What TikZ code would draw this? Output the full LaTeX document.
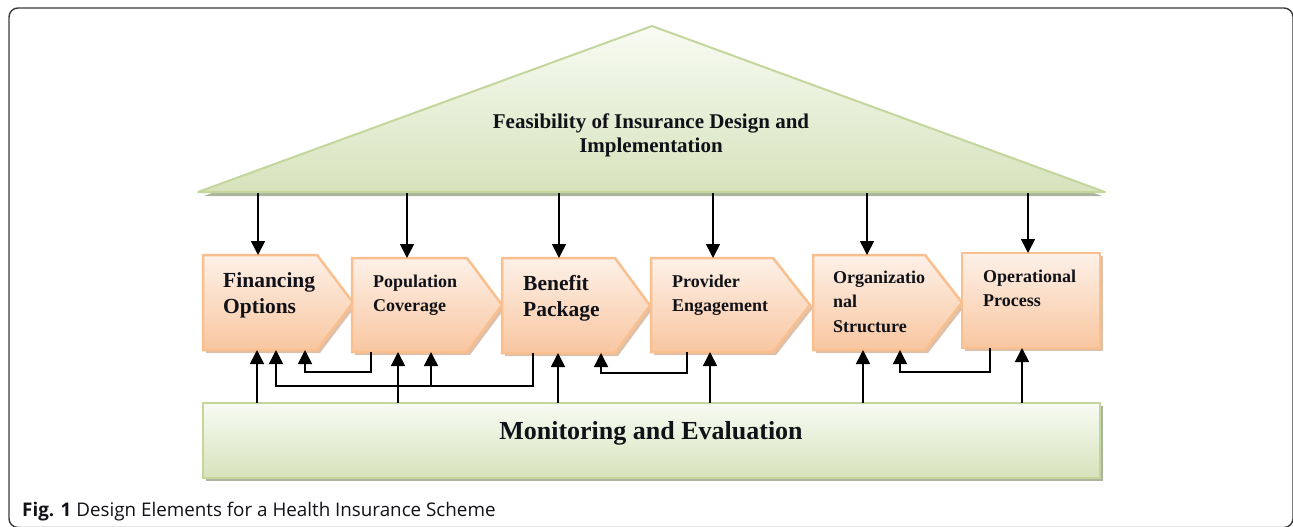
\documentclass[tikz,border=0pt]{standalone}
\usepackage{fontspec}
\setmainfont{Liberation Serif}
\newfontfamily\capfont{Open Sans}
\usetikzlibrary{arrows.meta,calc}
\definecolor{obord}{HTML}{F9BF8F}
\definecolor{otop}{HTML}{FDF1E8}
\definecolor{obot}{HTML}{F9C6A0}
\definecolor{oshad}{HTML}{DDC0AA}
\definecolor{gbord}{HTML}{C3D69B}
\definecolor{gtop}{HTML}{F8FBF3}
\definecolor{gbot}{HTML}{D6E3BC}
\definecolor{gshad}{HTML}{ABB49C}
\definecolor{framecol}{HTML}{3A3A3A}
\definecolor{txt}{HTML}{111118}
\newcommand\mychev[2]{%
  \fill[oshad] ($(#1.north west)+(3,3)$) -- ($(#1.north east)+(3,3)$) -- ($(#1.east)+(#2+3,3)$) -- ($(#1.south east)+(3,3)$) -- ($(#1.south west)+(3,3)$) -- cycle;
  \path[obox] (#1.north west) -- (#1.north east) -- ($(#1.east)+(#2,0)$) -- (#1.south east) -- (#1.south west) -- cycle;}
\begin{document}
\begin{tikzpicture}[x=1pt,y=-1pt,
  area/.style={inner sep=0pt, outer sep=0pt, draw=none, anchor=north west},
  obox/.style={draw=obord, line width=2.5pt, top color=otop, bottom color=obot, line join=miter},
  big/.style={inner sep=0pt, anchor=north west, align=left, text=txt, font=\fontsize{21.5}{26}\selectfont\bfseries},
  small/.style={inner sep=0pt, anchor=north west, align=left, text=txt, font=\fontsize{18}{24}\selectfont\bfseries},
  arr/.style={line width=1.7pt, draw=black, -{Triangle[width=14pt,length=14pt]}},
  fb/.style={line width=1.4pt, draw=black, -{Triangle[width=14pt,length=14pt]}}
]
\useasboundingbox (0,0) rectangle (1293,527);
\draw[framecol, line width=1.4pt, rounded corners=9pt] (9,8) rectangle (1293,527.5);

% roof
\coordinate (apex) at (652,26);
\coordinate (bl) at (198,192);
\coordinate (br) at (1105,192);
\coordinate (tb) at (0,193);
\fill[gshad] ($(bl)+(6,4)$) -- ($(apex)+(0,4)$) -- ($(br)+(-3,4)$) -- cycle;
\shade[top color=gtop, bottom color=gbot] (apex) -- (br) -- (bl) -- cycle;
\draw[gbord, line width=2pt, line join=round] (apex) -- (br) -- (bl) -- cycle;
\node[inner sep=0pt, anchor=north, align=center, text=txt, font=\fontsize{21}{24}\selectfont\bfseries] (roof) at (651,113.5) {Feasibility of Insurance Design and\\Implementation};

% boxes
\node[area, minimum width=114pt, minimum height=95pt] (fin) at (203,255) {};
\node[area, minimum width=115pt, minimum height=94pt] (pop) at (352,258) {};
\node[area, minimum width=113pt, minimum height=95pt] (ben) at (502,258) {};
\node[area, minimum width=122pt, minimum height=94pt] (prov) at (651,258) {};
\node[area, minimum width=112pt, minimum height=95pt] (org) at (813,255) {};
\node[area, minimum width=138pt, minimum height=95pt] (op) at (962,253) {};
\mychev{fin}{36}
\mychev{pop}{35}
\mychev{ben}{35}
\mychev{prov}{37}
\mychev{org}{37}
\fill[oshad] ($(op.north west)+(3,3)$) rectangle ($(op.south east)+(3,3)$);
\path[obox] (op.north west) rectangle (op.south east);

\node[big] (fint) at (223,272.4) {Financing\\Options};
\node[small] (popt) at (373,274.8) {Population\\Coverage};
\node[big] (bent) at (523,275.4) {Benefit\\Package};
\node[small] (provt) at (672,274.8) {Provider\\Engagement};
\node[small, font=\fontsize{18}{24.5}\selectfont\bfseries] (orgt) at (833,270.8) {Organizatio\\nal\\Structure};
\node[small] (opt) at (983,269.8) {Operational\\Process};

% monitoring
\fill[gshad] (206,406) rectangle (1103,481);
\node[area, draw=gbord, line width=2.5pt, top color=gtop, bottom color=gbot, minimum width=897pt, minimum height=75pt] (me) at (203,403) {};
\node[inner sep=0pt, anchor=base, text=txt, font=\fontsize{26}{30}\selectfont\bfseries] (met) at (651,439) {Monitoring and Evaluation};

% arrows from roof
\draw[arr] (258,0 |- tb) -- (258,0 |- fin.north);
\draw[arr] (407,0 |- tb) -- (407,0 |- pop.north);
\draw[arr] (559,0 |- tb) -- (559,0 |- ben.north);
\draw[arr] (713,0 |- tb) -- (713,0 |- prov.north);
\draw[arr] (867,0 |- tb) -- (867,0 |- org.north);
\draw[arr] (1028,0 |- tb) -- (1028,0 |- op.north);

% arrows from monitoring
\draw[arr] (257,0 |- me.north) -- (257,0 |- fin.south);
\draw[arr] (398,0 |- me.north) -- (398,0 |- pop.south);
\draw[arr] (558,0 |- me.north) -- (558,0 |- ben.south);
\draw[arr] (710,0 |- me.north) -- (710,0 |- prov.south);
\draw[arr] (863,0 |- me.north) -- (863,0 |- org.south);
\draw[arr] (1022,0 |- me.north) -- (1022,0 |- op.south);

% feedback
\draw[fb] (371,0 |- pop.south) |- (305,372) -- (305,0 |- fin.south);
\draw[fb] (533,0 |- ben.south) |- (276,386) -- (276,0 |- fin.south);
\draw[fb] (431,386) -- (431,0 |- pop.south);
\draw[fb] (687,0 |- prov.south) |- (601,373) -- (601,0 |- ben.south);
\draw[fb] (990,0 |- op.south) |- (900,372) -- (900,0 |- org.south);

% caption
\node[anchor=base west, inner sep=0pt, text=txt, font=\capfont\fontsize{18.8}{22}\selectfont] (cap) at (22,516.5) {\textbf{Fig. 1} Design Elements for a Health Insurance Scheme};
\end{tikzpicture}
\end{document}
